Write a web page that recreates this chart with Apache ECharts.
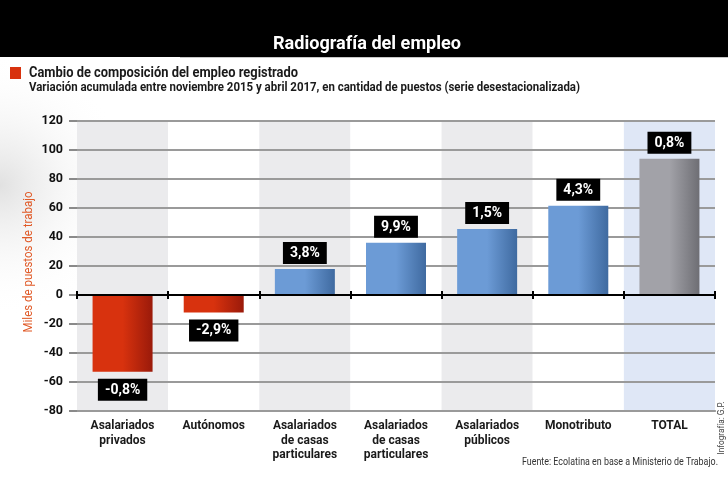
<!DOCTYPE html>
<html><head><meta charset="utf-8">
<script src="https://cdn.jsdelivr.net/npm/echarts@6/dist/echarts.min.js"></script>
<style>html,body{margin:0;padding:0;background:#fff}#c{width:728px;height:500px}</style>
</head><body><div id="c"></div>
<script>
var categories = ['Asalariados\nprivados','Autónomos','Asalariados\nde casas\nparticulares','Asalariados\nde casas\nparticulares','Asalariados\npúblicos','Monotributo','TOTAL'];
var values = [-53, -12, 18, 36, 45.5, 61.5, 94];
var pctLabels = ['-0,8%','-2,9%','3,8%','9,9%','1,5%','4,3%','0,8%'];
var barKinds = ['neg','neg','pos','pos','pos','pos','total'];
var yTicks = {min:-80, max:120, interval:20};

var titleText = 'Radiografía del empleo';
var subTitle1 = 'Cambio de composición del empleo registrado';
var subTitle2 = 'Variación acumulada entre noviembre 2015 y abril 2017, en cantidad de puestos (serie desestacionalizada)';
var yName = 'Miles de puestos de trabajo';
var sourceText = 'Fuente: Ecolatina en base a Ministerio de Trabajo.';
var creditText = 'Infografía: G.P.';

var FONT = 'Roboto, "DejaVu Sans Condensed", Arial, sans-serif';
function grad(a,b){return new echarts.graphic.LinearGradient(0,0,1,0,[{offset:0,color:a},{offset:0.5,color:a},{offset:1,color:b}]);}
var fills = {neg:grad('#d8320e','#9a1a0a'), pos:grad('#6c9bd6','#3f6aa0'), total:grad('#a2a2a8','#6e6e74')};

var cv = document.createElement('canvas').getContext('2d');
function condText(str, size, weight, targetW, x, y, color, rot, align){
  cv.font = weight+' '+size+'px Roboto';
  var w = cv.measureText(str).width;
  return {type:'text', x:x, y:y, scaleX: targetW / w, rotation: rot||0, z:10,
    style:{text:str, fontSize:size, fontWeight:weight, fontFamily:FONT, fill:color, align:align||'left', verticalAlign:'middle'}};
}

var chart = echarts.init(document.getElementById('c'), null, {renderer:'canvas'});
chart.setOption({
  animation:false,
  backgroundColor:'#fff',
  textStyle:{fontFamily:FONT},
  graphic:[
    {type:'rect', shape:{x:0,y:57,width:220,height:320}, z:-10, silent:true,
      style:{fill:new echarts.graphic.RadialGradient(0,0.4,0.6,[{offset:0,color:'rgba(215,215,215,0.75)'},{offset:1,color:'rgba(255,255,255,0)'}])}},
    {type:'rect', shape:{x:0,y:0,width:728,height:57}, style:{fill:'#000'}, z:-1},
    {type:'line', shape:{x1:180,y1:57.5,x2:728,y2:57.5}, style:{stroke:'#c8c8c8',lineWidth:1}},
    {type:'rect', shape:{x:10,y:67,width:11,height:12}, style:{fill:'#d8320e'}},
    condText(titleText, 18, 'bold', 188, 273, 44.5, '#fff'),
    condText(subTitle1, 14, 'bold', 269, 29, 73.5, '#1a1a1a'),
    condText(subTitle2, 12, 'bold', 551, 29, 87.5, '#1a1a1a'),
    condText(sourceText, 10.5, 'normal', 196, 522, 462, '#333'),
    condText(yName, 12.5, 'normal', 141, 28.5, 262, '#e05a28', Math.PI/2, 'center'),
    condText(creditText, 9, 'normal', 53, 722, 428, '#444', Math.PI/2, 'center')
  ],
  grid:{left:77, right:13, top:121, bottom:89, outerBoundsMode:'none', containLabel:false},
  xAxis:[{
    type:'category', data:categories, z:0,
    axisLine:{onZero:false, lineStyle:{color:'#8a8a8a',width:2}},
    axisTick:{show:false},
    axisLabel:{interval:0, color:'#1a1a1a', fontSize:12, fontWeight:'bold', lineHeight:14.5, fontFamily:FONT, margin:8},
    splitArea:{show:true, areaStyle:{color:['#ebebed','#ffffff','#ebebed','#ffffff','#ebebed','#ffffff','#dfe7f6']}},
    splitLine:{show:false}
  },{
    type:'category', data:categories, position:'bottom', z:5,
    axisLine:{onZero:true, onZeroAxisIndex:0, lineStyle:{color:'#000',width:2}},
    axisTick:{show:true, length:4, lineStyle:{color:'#000',width:2}},
    axisLabel:{show:false}, splitArea:{show:false}, splitLine:{show:false}
  },{
    type:'category', data:categories, position:'bottom', z:5,
    axisLine:{onZero:true, onZeroAxisIndex:1, lineStyle:{color:'#000',width:2}},
    axisTick:{show:true, inside:true, length:4, lineStyle:{color:'#000',width:2}},
    axisLabel:{show:false}, splitArea:{show:false}, splitLine:{show:false}
  }],
  yAxis:[{
    type:'value', min:yTicks.min, max:yTicks.max, interval:yTicks.interval, z:1,
    axisLine:{show:false},
    axisTick:{show:true, length:8, lineStyle:{color:'#8a8a8a',width:2}},
    axisLabel:{color:'#111', fontSize:12.5, fontWeight:'bold', fontFamily:FONT, margin:14},
    splitLine:{show:true, lineStyle:{color:'#9a9a9a', width:2}}
  },{
    type:'value', min:yTicks.min, max:yTicks.max, interval:yTicks.interval, position:'right',
    axisLine:{show:false}, axisTick:{show:false}, axisLabel:{show:false}, splitLine:{show:false}
  }],
  series:[{
    type:'bar', barWidth:60, z:3, xAxisIndex:0, yAxisIndex:0,
    data: values.map(function(v,i){
      return {value:v, itemStyle:{color:fills[barKinds[i]]},
        label:{position: v<0 ? 'bottom' : 'top', distance: v<0 ? 7 : 5}};
    }),
    label:{show:true, formatter:function(p){return pctLabels[p.dataIndex];},
      backgroundColor:'#000', color:'#fff', fontSize:14, fontWeight:'bold', fontFamily:FONT, padding:[4,7,3,7], lineHeight:15}
  }]
});
</script></body></html>
